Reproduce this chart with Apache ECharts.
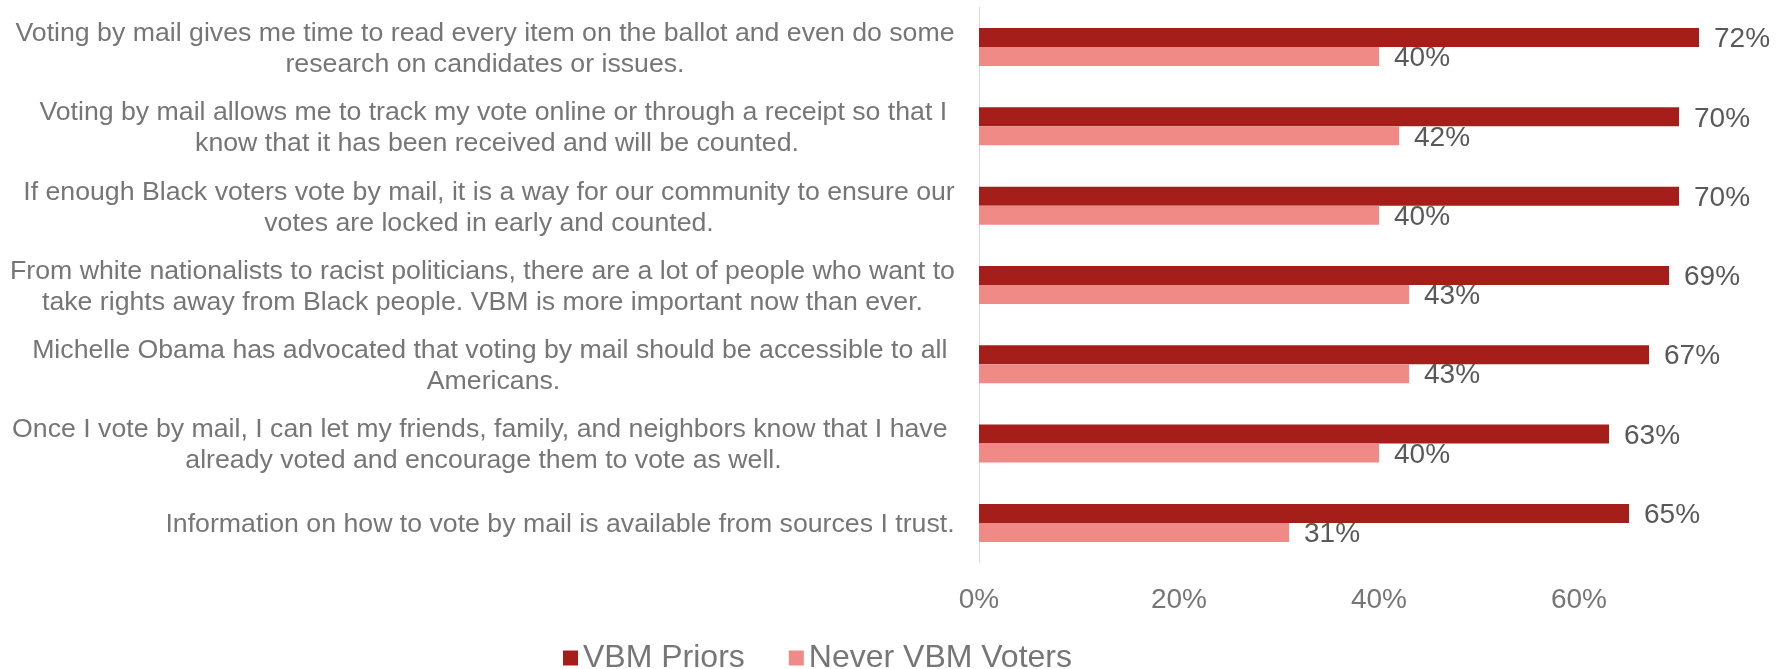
<!DOCTYPE html>
<html>
<head>
<meta charset="utf-8">
<script src="https://cdn.jsdelivr.net/npm/echarts@6/dist/echarts.min.js"></script>
<style>
html,body{margin:0;padding:0;background:#fff;}
#chart{width:1777px;height:669px;}
</style>
</head>
<body>
<div id="chart"></div>
<script>
const categories = [
  ["Voting by mail gives me time to read every item on the ballot and even do some", "research on candidates or issues."],
  ["Voting by mail allows me to track my vote online or through a receipt so that I ", "know that it has been received and will be counted."],
  ["If enough Black voters vote by mail, it is a way for our community to ensure our", "votes are locked in early and counted."],
  ["From white nationalists to racist politicians, there are a lot of people who want to", "take rights away from Black people. VBM is more important now than ever."],
  ["Michelle Obama has advocated that voting by mail should be accessible to all ", "Americans."],
  ["Once I vote by mail, I can let my friends, family, and neighbors know that I have ", "already voted and encourage them to vote as well."],
  ["Information on how to vote by mail is available from sources I trust."]
];
const vbmPriors = [72, 70, 70, 69, 67, 63, 65];
const neverVbm = [40, 42, 40, 43, 43, 40, 31];
const xTicks = [0, 20, 40, 60, 80];
const seriesNames = ["VBM Priors", "Never VBM Voters"];

const FONT = '"Liberation Sans", Arial, sans-serif';
const CAT_SIZE = 26.7;
const AXIS_COLOR = '#767676';
const LABEL_COLOR = '#595959';

const ctx = document.createElement('canvas').getContext('2d');
ctx.font = CAT_SIZE + 'px ' + FONT;
const rich = {};
categories.forEach((lines, i) => {
  const w = Math.max(...lines.map(l => ctx.measureText(l).width));
  rich['c' + i] = {width: Math.ceil(w), align: 'center', fontSize: CAT_SIZE, lineHeight: 31, color: AXIS_COLOR, fontFamily: FONT};
});
const catKeys = categories.map((_, i) => String(i));

const chart = echarts.init(document.getElementById('chart'), null, {renderer: 'canvas'});
chart.setOption({
  animation: false,
  textStyle: {fontFamily: FONT},
  legend: {
    data: seriesNames,
    left: 558,
    top: 637,
    itemWidth: 15,
    itemHeight: 15,
    itemGap: 44,
    icon: 'rect',
    textStyle: {fontSize: 32, color: AXIS_COLOR, fontFamily: FONT}
  },
  grid: {left: 979, top: 7.35, width: 800, height: 555.2, containLabel: false, outerBoundsMode: 'none'},
  xAxis: {
    type: 'value',
    min: xTicks[0],
    max: xTicks[xTicks.length - 1],
    interval: 20,
    splitLine: {show: false},
    axisLine: {show: false},
    axisTick: {show: false},
    axisLabel: {
      formatter: '{value}%',
      fontSize: 28,
      color: AXIS_COLOR,
      fontFamily: FONT,
      margin: 24,
      showMaxLabel: false
    }
  },
  yAxis: {
    type: 'category',
    inverse: true,
    data: catKeys,
    axisLine: {show: true, lineStyle: {color: '#D9D9D9', width: 1}},
    axisTick: {show: false},
    axisLabel: {
      margin: 24,
      align: 'right',
      padding: [4, 0, 0, 0],
      rich: rich,
      formatter: function (value) {
        const i = Number(value);
        return categories[i].map(l => '{c' + i + '|' + l + '}').join('\n');
      }
    }
  },
  series: [
    {
      name: seriesNames[0],
      type: 'bar',
      data: vbmPriors,
      barWidth: 19,
      barGap: '0%',
      itemStyle: {color: '#A61E19'},
      label: {show: true, position: 'right', distance: 15, offset: [0, 2], formatter: '{c}%', fontSize: 28, color: LABEL_COLOR, fontFamily: FONT}
    },
    {
      name: seriesNames[1],
      type: 'bar',
      data: neverVbm,
      barWidth: 19,
      barGap: '0%',
      itemStyle: {color: '#EF8A87'},
      label: {show: true, position: 'right', distance: 15, offset: [0, 2], formatter: '{c}%', fontSize: 28, color: LABEL_COLOR, fontFamily: FONT}
    }
  ]
});
</script>
</body>
</html>
